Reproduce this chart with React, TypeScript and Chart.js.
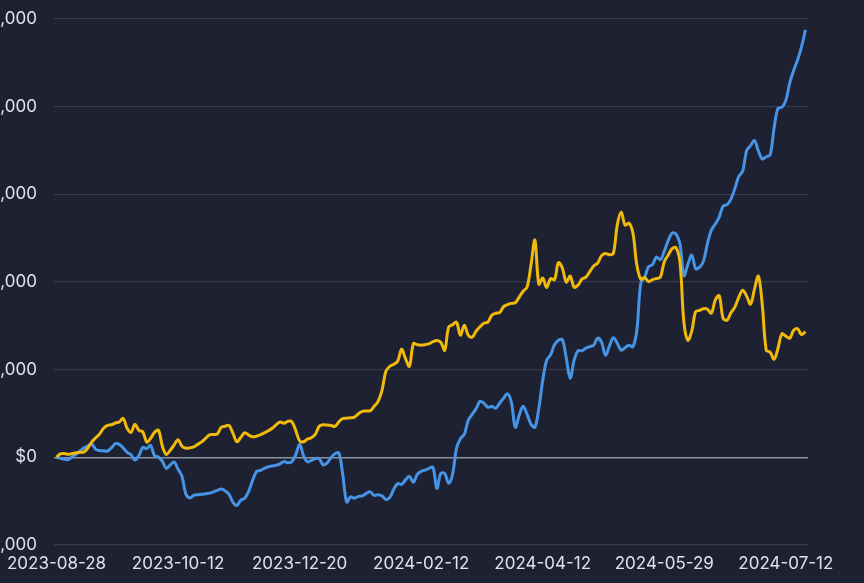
import React, { useEffect, useRef } from "react";
import { Chart, registerables } from "chart.js";

Chart.register(...registerables);

const TICK_LABELS = ["2023-08-28", "2023-10-12", "2023-12-20", "2024-02-12", "2024-04-12", "2024-05-29", "2024-07-12"];
const TICK_EVERY = 31;

const Y_MIN = -1000;
const Y_MAX = 5000;
const Y_STEP = 1000;

// Strategy (blue)
const BLUE_SERIES = [
  -3, -11, -21, -26, 6, 38, 73, 108, 131, 148,
  91, 77, 74, 72, 108, 156, 148, 108, 57, 29,
  -30, 20, 114, 99, 137, 17, 3, -46, -126, -86,
  -54, -137, -217, -422, -463, -434, -426, -422, -415, -408,
  -394, -377, -360, -383, -422, -514, -548, -488, -466, -388,
  -263, -162, -148, -126, -108, -99, -91, -74, -49, -63,
  -51, 29, 148, 17, -51, -34, -15, -15, -86, -63,
  -3, 40, 51, -200, -510, -451, -466, -445, -440, -411,
  -394, -434, -426, -440, -480, -457, -365, -300, -308, -257,
  -217, -285, -194, -160, -145, -126, -114, -354, -183, -183,
  -297, -194, 103, 211, 263, 422, 491, 554, 639, 617,
  571, 582, 560, 617, 674, 725, 628, 343, 480, 582,
  491, 377, 343, 560, 879, 1108, 1170, 1284, 1336, 1342,
  1131, 902, 1108, 1216, 1216, 1245, 1262, 1279, 1359, 1313,
  1165, 1268, 1365, 1302, 1222, 1251, 1279, 1262, 1450, 1987,
  2055, 2175, 2198, 2284, 2255, 2352, 2472, 2558, 2547, 2433,
  2073, 2198, 2307, 2153, 2170, 2238, 2438, 2592, 2661, 2741,
  2866, 2882, 2946, 3066, 3204, 3266, 3500, 3555, 3614, 3494,
  3403, 3429, 3449, 3757, 3982, 3993, 4072, 4271, 4414, 4534,
  4682, 4876,
];

// Benchmark (yellow)
const YELLOW_SERIES = [
  3, 40, 43, 34, 43, 53, 57, 61, 108, 177,
  223, 268, 331, 365, 371, 392, 403, 445, 331, 285,
  377, 308, 291, 175, 217, 285, 308, 126, 34, 80,
  143, 200, 126, 103, 108, 120, 148, 177, 217, 257,
  260, 268, 343, 354, 365, 274, 177, 228, 280, 254,
  234, 240, 257, 279, 303, 331, 371, 402, 388, 411,
  405, 308, 188, 177, 209, 223, 263, 354, 371, 368,
  363, 354, 405, 443, 445, 451, 459, 497, 525, 528,
  531, 582, 639, 765, 982, 1039, 1062, 1096, 1233, 1125,
  1039, 1296, 1285, 1279, 1285, 1296, 1319, 1333, 1313, 1222,
  1485, 1513, 1542, 1393, 1507, 1393, 1370, 1439, 1490, 1530,
  1542, 1622, 1644, 1650, 1719, 1742, 1756, 1763, 1827, 1895,
  1941, 2193, 2478, 1976, 2044, 1936, 2038, 2027, 2221, 2159,
  1999, 2067, 1941, 1964, 2033, 2055, 2118, 2183, 2215, 2301,
  2324, 2312, 2326, 2649, 2798, 2649, 2672, 2558, 2193, 2033,
  2050, 2004, 2027, 2040, 2055, 2232, 2307, 2381, 2392, 2227,
  1542, 1336, 1439, 1662, 1677, 1696, 1690, 1644, 1793, 1844,
  1587, 1564, 1650, 1713, 1827, 1907, 1839, 1747, 1918, 2067,
  1736, 1222, 1199, 1119, 1245, 1410, 1382, 1359, 1450, 1467,
  1399, 1433,
];

const BG = "#1e2131";
const TEXT = "#dde3ec";
const FONT = "Inter, 'Noto Sans', sans-serif";
const OFF = 60; // part of the canvas hidden to the left

function fmt(v: number): string {
  const s = "$" + Math.abs(v).toLocaleString("en-US");
  return v < 0 ? "-" + s : s;
}

export default function App() {
  const ref = useRef<HTMLCanvasElement | null>(null);

  useEffect(() => {
    if (!ref.current) return;
    const n = BLUE_SERIES.length;
    const chart = new Chart(ref.current, {
      type: "line",
      data: {
        datasets: [
          {
            label: "Benchmark",
            data: YELLOW_SERIES.map((v, i) => ({ x: i, y: v })),
            borderColor: "#f0b90b",
            borderWidth: 3,
            pointRadius: 0,
            tension: 0.35,
            fill: false,
          },
          {
            label: "Strategy",
            data: BLUE_SERIES.map((v, i) => ({ x: i, y: v })),
            borderColor: "#4694e6",
            borderWidth: 3,
            pointRadius: 0,
            tension: 0.35,
            fill: false,
          },
        ],
      },
      options: {
        animation: false,
        responsive: false,
        maintainAspectRatio: false,
        layout: { padding: { top: 19, right: 56, bottom: 0, left: 0 } },
        plugins: { legend: { display: false }, tooltip: { enabled: false } },
        scales: {
          x: {
            type: "linear",
            min: -0.65,
            max: n - 1 + 0.65,
            grid: { display: false, drawTicks: false },
            border: { display: false },
            afterBuildTicks: (scale: any) => {
              scale.ticks = TICK_LABELS.map((_, k) => ({ value: k * TICK_EVERY }));
            },
            afterFit: (scale: any) => {
              scale.height = 38;
              scale.paddingLeft = 0;
              scale.paddingRight = 0;
            },
            ticks: {
              autoSkip: false,
              maxRotation: 0,
              minRotation: 0,
              padding: 9,
              color: TEXT,
              font: { family: FONT, size: 17 },
              callback: (v: any) => {
                const k = Math.round(Number(v) / TICK_EVERY);
                return TICK_LABELS[k] ?? "";
              },
            },
          },
          y: {
            min: Y_MIN,
            max: Y_MAX,
            grid: {
              drawTicks: false,
              color: (ctx: any) => (ctx.tick && ctx.tick.value === 0 ? "#8e929e" : "#363a4c"),
              lineWidth: (ctx: any) => (ctx.tick && ctx.tick.value === 0 ? 1.6 : 1.2),
            },
            border: { display: false },
            afterFit: (scale: any) => {
              scale.width = 54 + OFF;
              scale.paddingTop = 0;
              scale.paddingBottom = 0;
            },
            ticks: {
              stepSize: Y_STEP,
              padding: 17,
              color: TEXT,
              font: { family: FONT, size: 17 },
              callback: (v: any) => fmt(Number(v)),
            },
          },
        },
      },
    });
    return () => chart.destroy();
  }, []);

  return (
    <div
      style={{
        position: "fixed",
        left: 0,
        top: 0,
        width: 864,
        height: 583,
        overflow: "hidden",
        background: BG,
      }}
    >
      <canvas
        ref={ref}
        width={864 + OFF}
        height={583}
        style={{ position: "absolute", left: -OFF, top: 0, width: 864 + OFF, height: 583 }}
      />
    </div>
  );
}
